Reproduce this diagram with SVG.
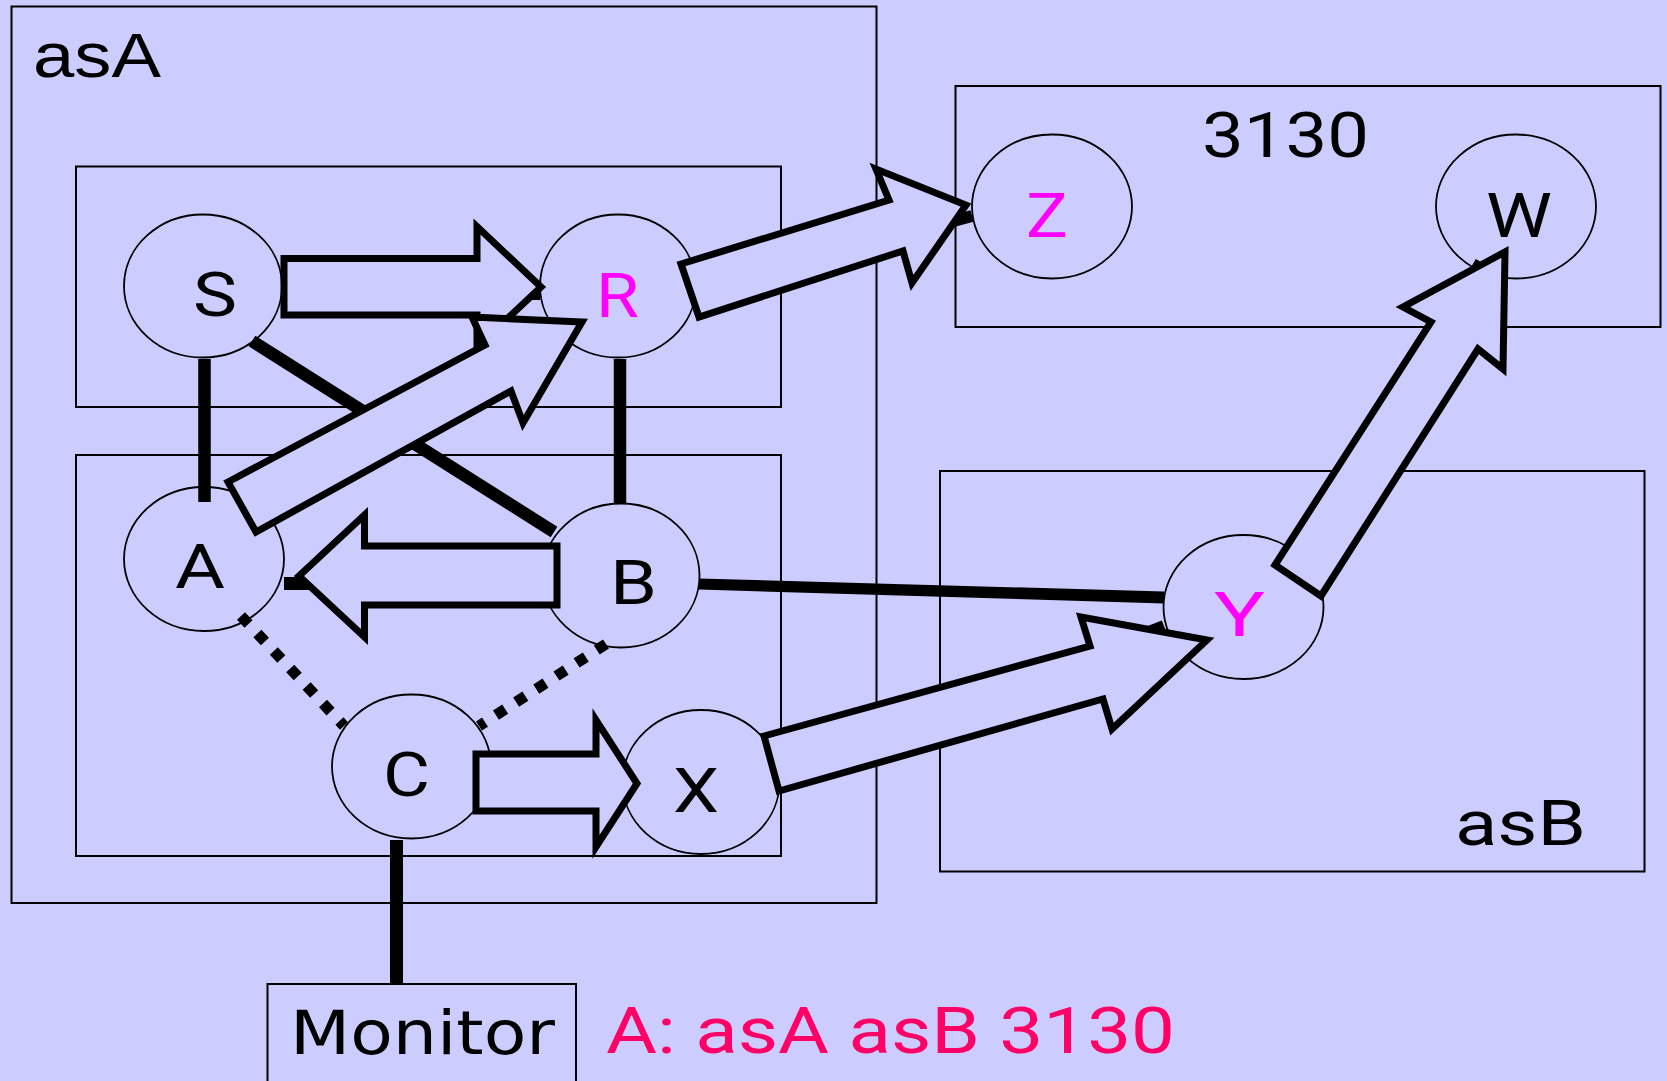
<svg xmlns="http://www.w3.org/2000/svg" width="1667" height="1081" viewBox="0 0 1667 1081">
<style>
.box{fill:none;stroke:#000;stroke-width:2}
.node{fill:#CCCCFF;stroke:#000;stroke-width:1.8}
.thick{stroke:#000;stroke-width:12.5;fill:none}
.dot{stroke:#000;stroke-width:11;stroke-dasharray:11 13;fill:none}
.blk{fill:#CCCCFF;stroke:#000;stroke-width:7;stroke-linejoin:miter;stroke-miterlimit:10}
.lbl{font-family:Roboto,"DejaVu Sans",sans-serif;font-size:62px;fill:#000}
.mag{fill:#FF00FF}
.big{font-family:Roboto,"DejaVu Sans",sans-serif;font-size:63px;fill:#000}
</style>
<rect x="0" y="0" width="1667" height="1081" fill="#CCCCFF"/>

<g id="asA">
<rect class="box" x="11.5" y="6.5" width="865" height="896.5"/>
<text x="33" y="77" style="font-family:'Liberation Sans',Arial,sans-serif;font-size:63px" textLength="128" lengthAdjust="spacingAndGlyphs">asA</text>
</g>
<g id="groupTop"><rect class="box" x="76" y="166.5" width="705" height="240.5"/></g>
<g id="groupBottom"><rect class="box" x="76" y="455" width="705" height="401"/></g>
<g id="g3130">
<rect class="box" x="955.5" y="86" width="705" height="241"/>
<text class="big" x="1202" y="157" textLength="167" lengthAdjust="spacingAndGlyphs">3130</text>
</g>
<g id="asB">
<rect class="box" x="940" y="471" width="704.5" height="400.5"/>
<text class="big" x="1455" y="845" textLength="131" lengthAdjust="spacingAndGlyphs">asB</text>
</g>

<g id="S"><ellipse class="node" cx="203" cy="286" rx="79" ry="71.5"/></g>
<g id="R"><ellipse class="node" cx="618" cy="286" rx="78" ry="71.5"/></g>
<g id="A"><ellipse class="node" cx="204" cy="559" rx="80" ry="72"/></g>
<g id="B"><ellipse class="node" cx="621" cy="575.5" rx="78.5" ry="72"/></g>
<g id="C"><ellipse class="node" cx="411.5" cy="766.5" rx="79.5" ry="72"/></g>
<g id="X"><ellipse class="node" cx="701" cy="782" rx="78.5" ry="72"/></g>
<g id="Z"><ellipse class="node" cx="1052" cy="206.5" rx="80" ry="72"/></g>
<g id="W"><ellipse class="node" cx="1516" cy="206.5" rx="80" ry="72"/></g>
<g id="Y"><ellipse class="node" cx="1243.5" cy="607" rx="80" ry="72"/></g>
<g id="Monitor">
<rect class="box" x="267.5" y="984" width="308.5" height="110"/>
<text x="290" y="1054" style="font-family:'DejaVu Sans',sans-serif;font-size:60px" textLength="265" lengthAdjust="spacingAndGlyphs">Monitor</text>
</g>

<g id="connectors">
<line class="thick" x1="204.5" y1="359" x2="204.5" y2="502"/>
<line class="thick" x1="620" y1="359" x2="620" y2="503"/>
<line class="thick" x1="252" y1="341" x2="554" y2="532"/>
<polygon points="699,578.5 699,589.5 1164,603.5 1164,591.5" fill="#000"/>
<line class="thick" x1="396.5" y1="840" x2="396.5" y2="984" style="stroke-width:13"/>
<line class="thick" x1="284" y1="583.5" x2="548" y2="583.5" style="stroke-width:13"/>
<line class="thick" x1="282" y1="294" x2="540" y2="294" style="stroke-width:12"/>
<line class="thick" x1="696" y1="290" x2="972" y2="216" style="stroke-width:12"/>
<line class="thick" x1="779" y1="775" x2="1164" y2="626" style="stroke-width:12"/>
<line class="thick" x1="1296" y1="580" x2="1481" y2="262" style="stroke-width:12"/>
<line class="dot" x1="241" y1="616" x2="344" y2="726"/>
<line class="dot" x1="606" y1="644" x2="479" y2="726"/>
<polygon class="blk" points="284,258.5 477,258.5 477,226.5 541,287 477,347 477,315 284,315"/>
<polygon class="blk" points="228,482 485,345 472,317 582,322 523,423 511,391 256,532"/>
<polygon class="blk" points="681,264 889,200 876,169 966,205 912,283 903,251 699,317"/>
<polygon class="blk" points="557,546 364.5,546 364.5,515 299,576 364.5,637 364.5,605 557,605"/>
<polygon class="blk" points="476,754 596,754 596,720 637,783.5 596,847 596,811 476,811"/>
<polygon class="blk" points="764,736 1090,646 1081,617 1207,640 1112,729 1103,699 779,791"/>
<polygon class="blk" points="1275,565 1431,322 1403,307 1505,252 1503,369 1478,349 1321,596"/>
</g>

<g id="labels">
<text class="lbl" x="193" y="316" textLength="44" lengthAdjust="spacingAndGlyphs">S</text>
<text class="lbl mag" x="596" y="317" textLength="43" lengthAdjust="spacingAndGlyphs">R</text>
<text class="lbl" x="175" y="588" textLength="50" lengthAdjust="spacingAndGlyphs">A</text>
<text class="lbl" x="610" y="604" textLength="47" lengthAdjust="spacingAndGlyphs">B</text>
<text class="lbl" x="383" y="796" textLength="47" lengthAdjust="spacingAndGlyphs">C</text>
<text class="lbl" x="673" y="812" textLength="46" lengthAdjust="spacingAndGlyphs">X</text>
<text class="lbl mag" x="1214" y="636" textLength="51" lengthAdjust="spacingAndGlyphs">Y</text>
<text class="lbl mag" x="1026" y="237" textLength="42" lengthAdjust="spacingAndGlyphs">Z</text>
<text class="lbl" x="1486" y="237" textLength="66" lengthAdjust="spacingAndGlyphs">W</text>
</g>
<text x="606" y="1053" style="font-family:Roboto,'DejaVu Sans',sans-serif;font-size:65px;fill:#FF0066" textLength="569" lengthAdjust="spacingAndGlyphs">A: asA asB 3130</text>
</svg>
